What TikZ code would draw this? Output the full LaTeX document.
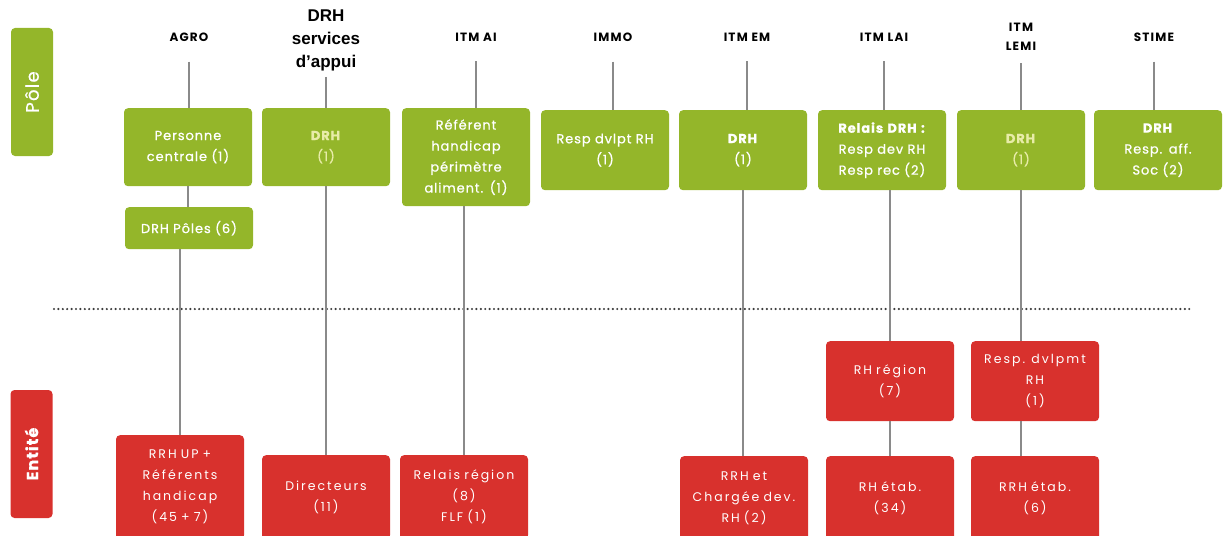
\documentclass[tikz,border=0pt]{standalone}
\usepackage{fontspec}
\setmainfont{Poppins}
\newfontfamily\boxfont[LetterSpace=7,FakeBold=0.8]{Poppins}
\newfontfamily\redfont[LetterSpace=16]{Poppins}
\newfontfamily\hdrfont[LetterSpace=10]{Poppins}
\newfontfamily\appuifont{Liberation Sans}
\usetikzlibrary{calc}

\definecolor{poleGreen}{RGB}{148,182,42}
\definecolor{entRed}{RGB}{216,49,45}
\definecolor{linkGrey}{RGB}{138,138,138}
\definecolor{paleText}{RGB}{232,236,168}
\definecolor{sepGrey}{RGB}{60,60,60}

\begin{document}
\begin{tikzpicture}[x=1pt,y=-1pt,
    hdr/.style={font=\hdrfont\bfseries\fontsize{12}{19}\selectfont, align=center, inner sep=0pt},
    polebox/.style={fill=poleGreen, rounded corners=4pt, text=white, align=center,
        text width=124pt, minimum width=128pt, minimum height=78pt, inner sep=2pt,
        font=\boxfont\fontsize{13}{21}\selectfont, anchor=north},
    entbox/.style={polebox, fill=entRed, font=\redfont\fontsize{12.5}{21}\selectfont},
    side/.style={rotate=90, minimum width=128pt, minimum height=42pt, rounded corners=4pt,
        text=white, font=\boxfont\fontsize{18}{20}\selectfont},
    link/.style={draw=linkGrey, line width=1.1pt}]

    \useasboundingbox (0,0) rectangle (1230,535);

    % side labels
    \node[side, fill=poleGreen] (lpole) at (32,92) {Pôle};
    \node[side, fill=entRed, font=\boxfont\bfseries\fontsize{16}{18}\selectfont] (lent) at (31.5,454) {Entité};

    % column headers
    \node[hdr] (hAgro) at (189,37) {AGRO};
    \node[hdr, font=\appuifont\bfseries\fontsize{17}{23}\selectfont] (hDrh) at (326,40) {DRH\\services\\d’appui};
    \node[hdr] (hItmai) at (476,37) {ITM AI};
    \node[hdr] (hImmo) at (613,37) {IMMO};
    \node[hdr] (hItmem) at (747,37) {ITM EM};
    \node[hdr] (hItmlai) at (884,37) {ITM LAI};
    \node[hdr] (hItmlemi) at (1021,36.5) {ITM\\LEMI};
    \node[hdr] (hStime) at (1154,37) {STIME};

    % pole boxes
    \node[polebox] (agro) at (188,108) {Personne\\centrale (1)};
    \node[polebox, text=paleText] (drh) at (326,108) {\textbf{DRH}\\(1)};
    \node[polebox, minimum height=98pt] (itmai) at (466,108) {Référent\\handicap\\périmètre\\aliment. (1)};
    \node[polebox, minimum height=80pt] (immo) at (605,110) {Resp dvlpt RH\\(1)};
    \node[polebox, minimum height=80pt] (itmem) at (743,110) {\textbf{DRH}\\(1)};
    \node[polebox, minimum height=80pt] (itmlai) at (882,110) {\textbf{Relais DRH :}\\Resp dev RH\\Resp rec (2)};
    \node[polebox, minimum height=80pt, text=paleText] (itmlemi) at (1021,110) {\textbf{DRH}\\(1)};
    \node[polebox, minimum height=80pt] (stime) at (1158,110) {\textbf{DRH}\\Resp. aff.\\Soc (2)};
    \node[polebox, minimum height=42pt] (drhpoles) at (189,207) {DRH Pôles (6)};

    % entite boxes
    \node[entbox, minimum height=104pt] (rrhup) at (180,435) {RRH UP +\\Référents\\handicap\\(45 + 7)};
    \node[entbox, minimum height=84pt] (direct) at (326,455) {Directeurs\\(11)};
    \node[entbox, minimum height=84pt] (relais) at (464,455) {Relais région\\(8)\\FLF (1)};
    \node[entbox, minimum height=84pt] (rrhet) at (744,456) {RRH et\\Chargée dev.\\RH (2)};
    \node[entbox, minimum height=80pt] (rhreg) at (890,341) {RH région\\(7)};
    \node[entbox, minimum height=80pt] (respdev) at (1035,341) {Resp. dvlpmt\\RH\\(1)};
    \node[entbox, minimum height=84pt] (rhetab) at (890,456) {RH étab.\\(34)};
    \node[entbox, minimum height=84pt] (rrhetab) at (1035,456) {RRH étab.\\(6)};

    % separator
    \draw[sepGrey, line width=2.4pt, line cap=round, dash pattern=on 0pt off 4.4pt] (54,309) -- (1192,309);

    % header to pole links
    \foreach \h/\b/\s in {hAgro/agro/20, hDrh/drh/6, hItmai/itmai/20, hImmo/immo/20,
        hItmem/itmem/20, hItmlai/itmlai/20, hItmlemi/itmlemi/13, hStime/stime/20}
        \draw[link, shorten <=\s pt] (\h.south) -- (\h.south |- \b.north);

    % lower links
    \draw[link] (agro.south) -- (agro.south |- drhpoles.north);
    \draw[link] (rrhup.north |- drhpoles.south) -- (rrhup.north);
    \draw[link] (drh.south) -- (drh.south |- direct.north);
    \draw[link] (relais.north |- itmai.south) -- (relais.north);
    \draw[link] (itmem.south) -- (itmem.south |- rrhet.north);
    \draw[link] (rhreg.north |- itmlai.south) -- (rhreg.north);
    \draw[link] (rhreg) -- (rhetab);
    \draw[link] (itmlemi.south) -- (itmlemi.south |- respdev.north);
    \draw[link] (itmlemi.south |- respdev.south) -- (itmlemi.south |- rrhetab.north);

\end{tikzpicture}
\end{document}
